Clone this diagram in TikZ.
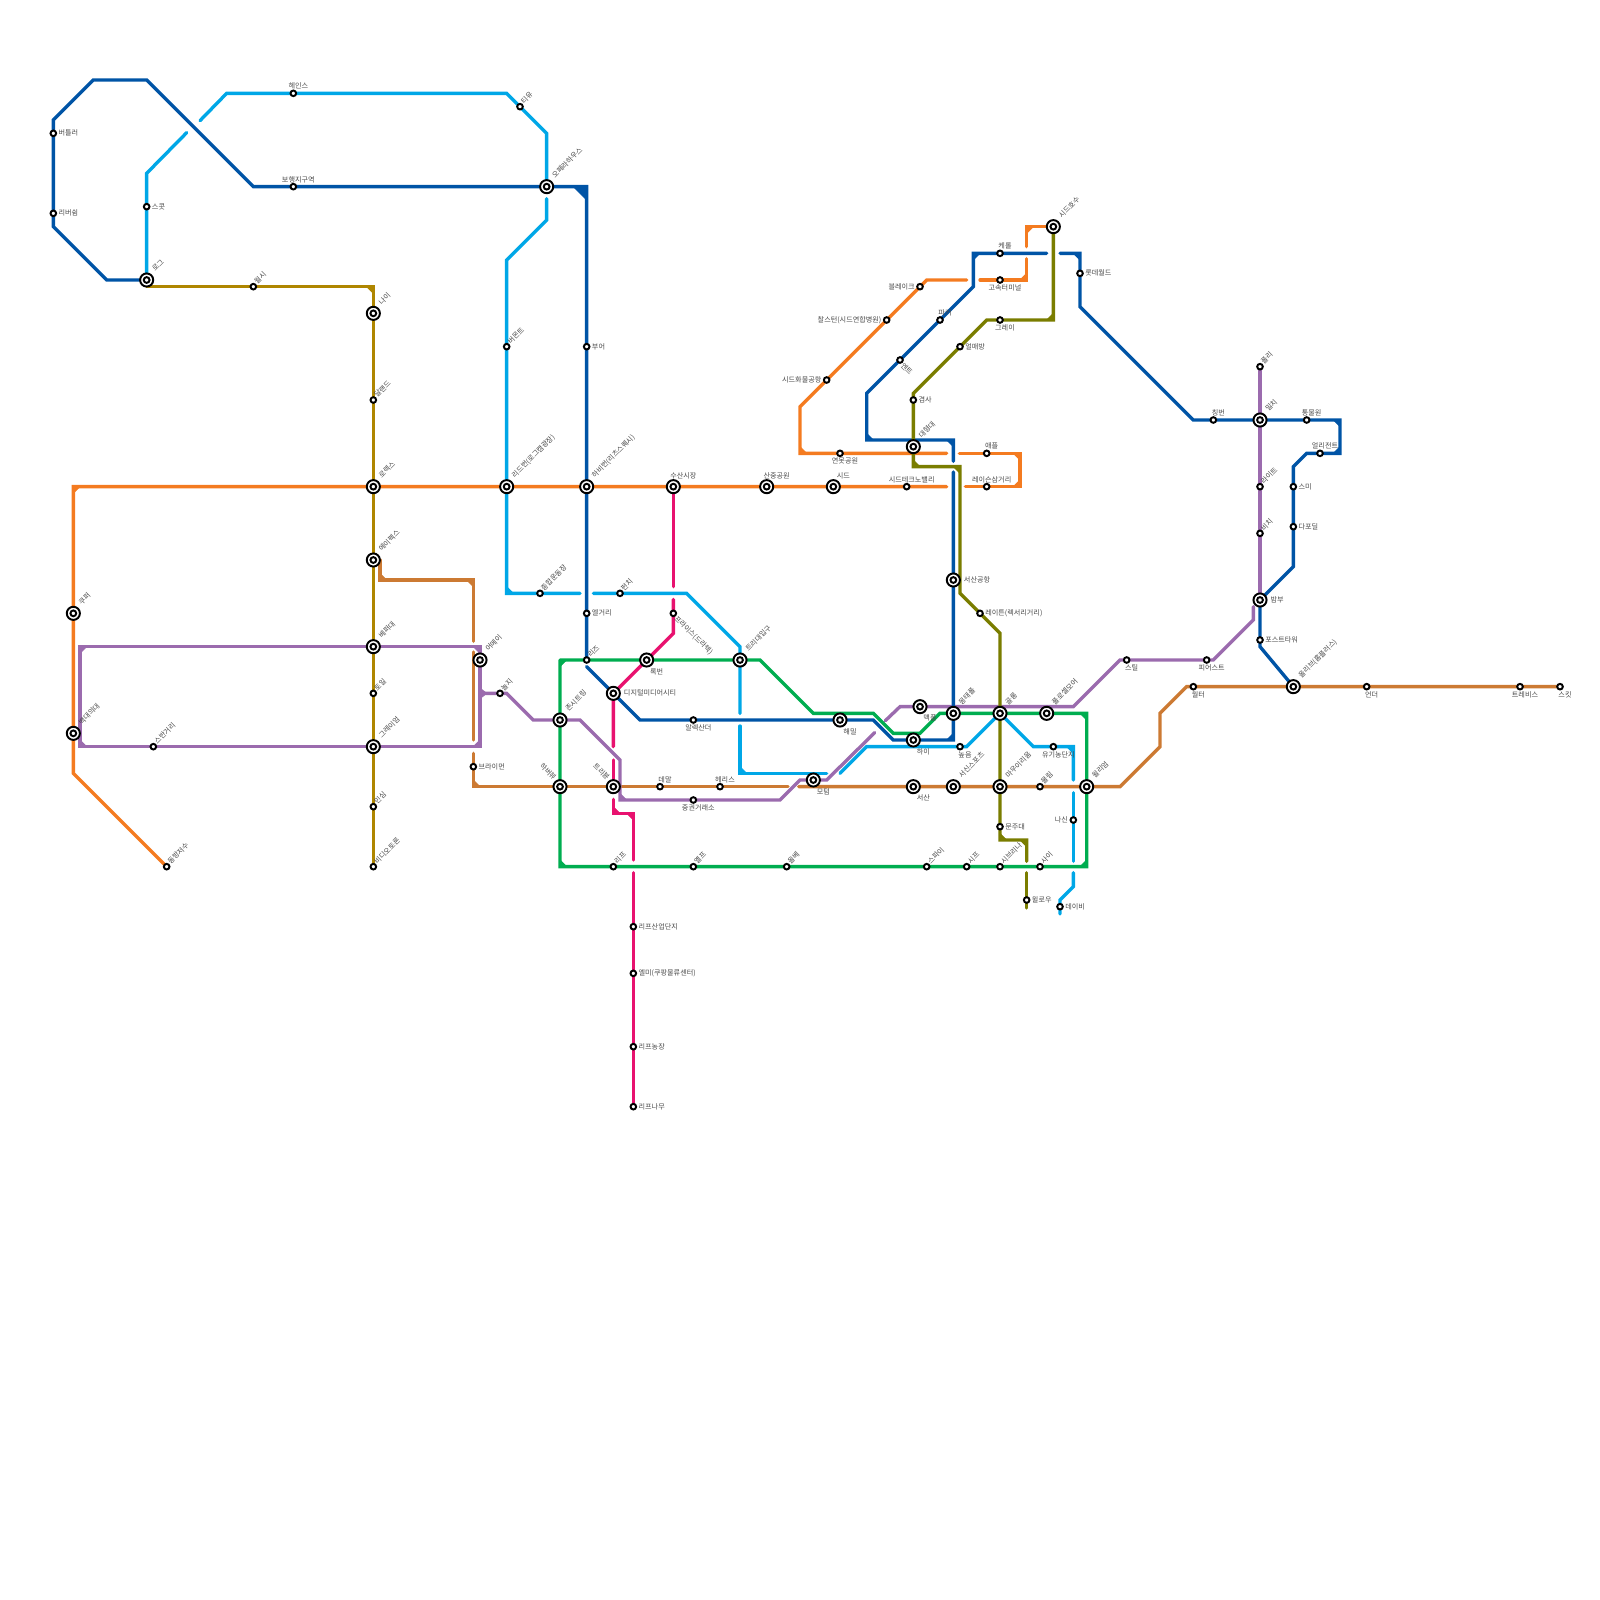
\documentclass[tikz,border=0pt]{standalone}
\usepackage{fontspec}
\usepackage{xcolor}
\usepackage{tikz}
\usetikzlibrary{backgrounds}
\setmainfont{Noto Sans CJK KR}
\definecolor{lnblue}{HTML}{0054A6}
\definecolor{lnsky}{HTML}{00A7E7}
\definecolor{lngold}{HTML}{AF8600}
\definecolor{lnorange}{HTML}{F47B20}
\definecolor{lnbrown}{HTML}{CC7A33}
\definecolor{lnpurple}{HTML}{9B6BAE}
\definecolor{lngreen}{HTML}{00AD50}
\definecolor{lnmagenta}{HTML}{E8126F}
\definecolor{lnolive}{HTML}{7A7D00}
\definecolor{lbgray}{HTML}{484848}
\tikzset{
  stn/.style={circle,draw=black,fill=white,line width=1.25pt,minimum size=3.6pt,inner sep=0pt,outer sep=0pt},
  hub/.style={stn,minimum size=8.4pt,path picture={\draw[line width=1.25pt] (path picture bounding box.center) circle (1.85pt);}},
  txt/.style={text=lbgray,font=\fontsize{4.55}{5}\selectfont,inner sep=0pt},
  lbe/.style={label={[txt,label distance=1.4pt]right:#1}},
  lbE/.style={label={[txt,label distance=2.4pt]right:#1}},
  lbw/.style={label={[txt,label distance=1.4pt]left:#1}},
  lbn/.style={label={[txt,label distance=0.6pt,xshift=3.2pt]above:#1}},
  lbs/.style={label={[txt,label distance=1pt,xshift=3.2pt]below:#1}},
  lbN/.style={label={[txt,label distance=0.6pt,xshift=6.4pt]above:#1}},
  lbS/.style={label={[txt,label distance=1pt,xshift=6.4pt]below:#1}},
  lbne/.style={label={[txt,rotate=45,anchor=west,label distance=1.2pt]45:#1}},
  lbNE/.style={label={[txt,rotate=45,anchor=west,label distance=2.2pt,xshift=1.6pt]45:#1}},
  lbse/.style={label={[txt,rotate=-45,anchor=west,label distance=1.2pt]-45:#1}},
  lbNW/.style={label={[txt,rotate=-45,anchor=east,label distance=2.2pt]135:#1}},
  ln/.style={line width=2.15pt,line cap=round,line join=miter,#1},
  cnr/.style={fill=#1,draw=#1,line width=0.5pt}
}
\begin{document}
\begin{tikzpicture}[x=0.3cm,y=-0.3cm]
\useasboundingbox (0,0) rectangle (120,120);
\node[stn,lbe=버틀러] (butler) at (4,10) {};
\node[stn,lbe=리버쉼] (rivers) at (4,16) {};
\node[stn,lbe=스콧] (scott) at (11,15.5) {};
\node[hub,lbNE=로그] (log) at (11,21) {};
\node[stn,lbne=월시] (walsh) at (19,21.5) {};
\node[hub,lbNE=나이] (nai) at (28,23.5) {};
\node[stn,lbn=헤인스] (hains) at (22,7) {};
\node[stn,lbn=보행지구역] (bohaeng) at (22,14) {};
\node[stn,lbne=달랜드] (dalland) at (28,30) {};
\node[stn,lbne=티유] (tiyu) at (39,8) {};
\node[hub,lbNE=오페라하우스] (opera) at (41,14) {};
\node[stn,lbne=버몬트] (vermont) at (38,26) {};
\node[stn,lbe=부어] (buer) at (44,26) {};
\node[hub,lbNE=리드번(로그캠광장)] (lead) at (38,36.5) {};
\node[hub,lbNE=하비번(리츠스퀘시)] (harvey) at (44,36.5) {};
\node[hub,lbN=수산시장] (susan) at (50.5,36.5) {};
\node[hub,lbN=산중공원] (sanjung) at (57.5,36.5) {};
\node[hub,lbN=시드] (seed) at (62.5,36.5) {};
\node[stn,lbn=시드테크노밸리] (techno) at (68,36.5) {};
\node[stn,lbn=레이슨삼거리] (rayson) at (74,36.5) {};
\node[stn,lbn=애플] (apple) at (74,34) {};
\node[hub,lbNE=시드호수] (seedlake) at (79,17) {};
\node[stn,lbn=케롤] (carol) at (75,19) {};
\node[stn,lbs=고속터미널] (express) at (75,21) {};
\node[stn,lbw=블레이크] (blake) at (69,21.5) {};
\node[stn,lbn=파커] (parker) at (70.5,24) {};
\node[stn,lbw=찰스턴(시드연합병원)] (charles) at (66.5,24) {};
\node[stn,lbse=엔트] (ent) at (67.5,27) {};
\node[stn,lbs=그레이] (grey) at (75,24) {};
\node[stn,lbe=얼매방] (almae) at (72,26) {};
\node[stn,lbe=겸사] (gyeomsa) at (68.5,30) {};
\node[stn,lbw=시드화물공항] (cargo) at (62,28.5) {};
\node[hub,lbNE=대형대] (daehyeong) at (68.5,33.5) {};
\node[stn,lbs=연못공원] (yeonmot) at (63,34) {};
\node[stn,lbe=롯데월드] (lotte) at (81,20.5) {};
\node[stn,lbn=칭번] (chingbeon) at (91,31.5) {};
\node[hub,lbNE=밀치] (milchi) at (94.5,31.5) {};
\node[stn,lbn=통물원] (zoo) at (98,31.5) {};
\node[stn,lbn=얼리전트] (allegiant) at (99,34) {};
\node[stn,lbe=스미] (sumi) at (97,36.5) {};
\node[stn,lbe=다포딜] (daffodil) at (97,39.5) {};
\node[stn,lbne=폴리] (polly) at (94.5,27.5) {};
\node[stn,lbne=라이트] (wright) at (94.5,36.5) {};
\node[stn,lbne=비치] (beach) at (94.5,40) {};
\node[hub,lbE=밤부] (bamboo) at (94.5,45) {};
\node[stn,lbe=포스트타워] (posttower) at (94.5,48) {};
\node[hub,lbNE=올리브(홈플러스)] (olive) at (97,51.5) {};
\node[stn,lbs=월터] (filter) at (89.5,51.5) {};
\node[stn,lbs=언더] (under) at (102.5,51.5) {};
\node[stn,lbs=트레비스] (travis) at (114,51.5) {};
\node[stn,lbs=스킷] (skit) at (117,51.5) {};
\node[stn,lbs=피어스트] (pierce) at (90.5,49.5) {};
\node[stn,lbs=스틸] (steel) at (84.5,49.5) {};
\node[stn,lbne=동방저수] (dongbang) at (12.5,65) {};
\node[hub,lbNE=쿠퍼] (kuper) at (5.5,46) {};
\node[hub,lbNE=백대의대] (baekdae) at (5.5,55) {};
\node[stn,lbne=스반거리] (sban) at (11.5,56) {};
\node[hub,lbNE=로렉스] (rolex) at (28,36.5) {};
\node[hub,lbNE=에이펙스] (apex) at (28,42) {};
\node[hub,lbNE=베퍼대] (bepper) at (28,48.5) {};
\node[stn,lbne=토일] (toil) at (28,52) {};
\node[hub,lbNE=그레이엄] (graham) at (28,56) {};
\node[stn,lbne=민심] (minsim) at (28,60.5) {};
\node[stn,lbne=비디오토론] (video) at (28,65) {};
\node[hub,lbNE=어메이] (amei) at (36,49.5) {};
\node[stn,lbne=놀지] (nolji) at (37.5,52) {};
\node[stn,lbe=브라이먼] (brian) at (35.5,57.5) {};
\node[stn,lbne=종합운동장] (stadium) at (40.5,44.5) {};
\node[stn,lbne=펀치] (punch) at (46.5,44.5) {};
\node[stn,lbe=엘거리] (elgeori) at (44,46) {};
\node[stn,lbse=프라이스(드라텍)] (price) at (50.5,46) {};
\node[stn,lbne=리즈] (riz) at (44,49.5) {};
\node[hub,lbS=록번] (rokbeon) at (48.5,49.5) {};
\node[hub,lbNE=트리대입구] (triday) at (55.5,49.5) {};
\node[hub,lbE=디지털미디어시티] (digital) at (46,52) {};
\node[stn,lbs=알렉산더] (alex) at (52,54) {};
\node[hub,lbNE=존시트링] (jon) at (42,54) {};
\node[hub,lbNW=하버뷰] (harbor) at (42,59) {};
\node[hub,lbNW=트리뷴] (tribune) at (46,59) {};
\node[stn,lbn=데말] (demal) at (49.5,59) {};
\node[stn,lbn=헤리스] (heris) at (54,59) {};
\node[stn,lbs=중권거래소] (jungkwon) at (52,60) {};
\node[hub,lbS=모텀] (motum) at (61,58.5) {};
\node[hub,lbS=해밀] (haemil) at (63,54) {};
\node[hub,lbS=맥풀] (maekpul) at (69,53) {};
\node[hub,lbS=하이] (hai) at (68.5,55.5) {};
\node[stn,lbs=높음] (nopeum) at (72,56) {};
\node[hub,lbS=서산] (seosan) at (68.5,59) {};
\node[hub,lbNE=서신스포츠] (sports) at (71.5,59) {};
\node[hub,lbNE=몽태폴] (montepul) at (71.5,53.5) {};
\node[hub,lbE=서산공항] (airport) at (71.5,43.5) {};
\node[stn,lbe=레이튼(렉서리거리)] (layton) at (73.5,46) {};
\node[hub,lbNE=골롱] (golong) at (75,53.5) {};
\node[hub,lbNE=풀로셀모어] (floral) at (78.5,53.5) {};
\node[stn,lbs=유기농단지] (organic) at (79,56) {};
\node[hub,lbNE=마우이리움] (maui) at (75,59) {};
\node[stn,lbne=물림] (mullim) at (78,59) {};
\node[hub,lbNE=윌리엄] (william) at (81.5,59) {};
\node[stn,lbe=문주대] (munju) at (75,62) {};
\node[stn,lbw=나신] (nasin) at (80.5,61.5) {};
\node[stn,lbne=사이] (sai) at (78,65) {};
\node[stn,lbne=시브리나] (sabrina) at (75,65) {};
\node[stn,lbne=시프] (sipeu) at (72.5,65) {};
\node[stn,lbne=스파이] (spy) at (69.5,65) {};
\node[stn,lbne=올베] (olbe) at (59,65) {};
\node[stn,lbne=옐프] (yelp) at (52,65) {};
\node[stn,lbne=리프] (leaf) at (46,65) {};
\node[stn,lbe=윌로우] (willow) at (77,67.5) {};
\node[stn,lbe=데이비] (davey) at (79.5,68) {};
\node[stn,lbe=리프산업단지] (leafind) at (47.5,69.5) {};
\node[stn,lbe=엘미(쿠팡물류센터)] (elmi) at (47.5,73) {};
\node[stn,lbe=리프농장] (leaffarm) at (47.5,78.5) {};
\node[stn,lbe=리프나무] (leaftree) at (47.5,83) {};
\begin{scope}[on background layer]
\draw[ln=lnsky] (log) -- (scott) -- (11,13) -- (14,9.95);
\draw[ln=lnsky] (15,9.05) -- (17,7) -- (hains) -- (38,7) -- (tiyu) -- (41,10) -- (opera);
\draw[ln=lnsky] (41,14.9) -- (41,16.5) -- (38,19.5) -- (vermont) -- (lead) -- (38,44.5) -- (stadium) -- (43.5,44.5);
\draw[ln=lnsky] (44.5,44.5) -- (punch) -- (51.5,44.5) -- (55.5,48.5) -- (triday) -- (55.5,53.5);
\draw[ln=lnsky] (55.5,54.45) -- (55.5,58) -- (62,58);
\draw[ln=lnsky] (63,58) -- (65,56) -- (nopeum) -- (72.5,56) -- (golong);
\draw[ln=lnsky] (golong) -- (77.5,56) -- (organic) -- (80.5,56) -- (80.5,58.5);
\draw[ln=lnsky] (80.5,59.45) -- (nasin) -- (80.5,64.6);
\draw[ln=lnsky] (80.5,65.45) -- (80.5,66.5) -- (79.5,67.5) -- (davey) -- (79.5,68.55);
\path[cnr=lnsky] (38,44) -- (38,44.5) -- (38.5,44.5) -- cycle (55.5,57.5) -- (55.5,58) -- (56,58) -- cycle (80,56) -- (80.5,56) -- (80.5,56.5) -- cycle;
\draw[ln=lngold] (11,21.5) -- (walsh) -- (28,21.5) -- (nai) -- (dalland) -- (rolex) -- (apex) -- (bepper) -- (toil) -- (graham) -- (minsim) -- (video);
\path[cnr=lngold] (27.5,21.5) -- (28,21.5) -- (28,22) -- cycle;
\draw[ln=lnorange] (dongbang) -- (5.5,58) -- (baekdae) -- (kuper) -- (5.5,36.5) -- (rolex) -- (lead) -- (harvey) -- (susan) -- (sanjung) -- (seed) -- (techno) -- (71,36.5);
\draw[ln=lnorange] (72.4,36.5) -- (rayson) -- (76.5,36.5) -- (76.5,34) -- (apple) -- (71.95,34);
\draw[ln=lnorange] (71,34) -- (yeonmot) -- (60,34) -- (60,30.5) -- (cargo) -- (charles) -- (blake) -- (69.5,21) -- (72.5,21);
\draw[ln=lnorange] (73.5,21) -- (express) -- (77,21) -- (77,19.4);
\draw[ln=lnorange] (77,18.5) -- (77,17) -- (seedlake);
\path[cnr=lnorange] (6,36.5) -- (5.5,36.5) -- (5.5,37) -- cycle (60,33.5) -- (60,34) -- (60.5,34) -- cycle (76,34) -- (76.5,34) -- (76.5,34.5) -- cycle (76.5,36) -- (76.5,36.5) -- (76,36.5) -- cycle (77,20.5) -- (77,21) -- (76.5,21) -- cycle (77.5,17) -- (77,17) -- (77,17.5) -- cycle;
\draw[ln=lnbrown] (28.5,42) -- (28.5,43.5) -- (35.5,43.5) -- (35.5,48.1);
\draw[ln=lnbrown] (35.5,48.9) -- (35.5,55.5);
\draw[ln=lnbrown] (35.5,56.5) -- (brian) -- (35.5,59) -- (harbor) -- (tribune) -- (demal) -- (heris) -- (59.1,59);
\draw[ln=lnbrown] (59.9,59) -- (seosan) -- (sports) -- (maui) -- (mullim) -- (william) -- (84,59) -- (87,56) -- (87,53.5) -- (89,51.5) -- (filter) -- (olive) -- (under) -- (travis) -- (skit);
\path[cnr=lnbrown] (28.5,43) -- (28.5,43.5) -- (29,43.5) -- cycle (35,43.5) -- (35.5,43.5) -- (35.5,44) -- cycle (35.5,58.5) -- (35.5,59) -- (36,59) -- cycle;
\draw[ln=lnpurple] (bepper) -- (6,48.5) -- (6,56) -- (sban) -- (graham) -- (36,56) -- (36,48.5) -- (bepper);
\draw[ln=lnpurple] (36,52) -- (nolji) -- (38,52) -- (40,54) -- (jon) -- (43.5,54) -- (46.5,57) -- (46.5,60) -- (jungkwon) -- (58.5,60) -- (60,58.5) -- (motum) -- (62,58.5) -- (65.6,54.95);
\draw[ln=lnpurple] (66.4,54.05) -- (67.5,53) -- (maekpul) -- (80.5,53) -- (84,49.5) -- (steel) -- (pierce) -- (91,49.5) -- (94,46.5) -- (94,45.5);
\draw[ln=lnpurple] (polly) -- (milchi) -- (wright) -- (beach) -- (bamboo);
\path[cnr=lnpurple] (6.5,48.5) -- (6,48.5) -- (6,49) -- cycle (6,55.5) -- (6,56) -- (6.5,56) -- cycle (35.5,48.5) -- (36,48.5) -- (36,49) -- cycle (36,55.5) -- (36,56) -- (35.5,56) -- cycle (36,51.6) -- (36.5,52) -- (36,52.4) -- cycle (46.5,59.5) -- (46.5,60) -- (47,60) -- cycle;
\draw[ln=lngreen] (42,49.5) -- (riz) -- (rokbeon) -- (triday) -- (57,49.5) -- (61,53.5) -- (65.5,53.5) -- (67,55) -- (69,55) -- (70.5,53.5) -- (montepul) -- (golong) -- (floral) -- (81.5,53.5) -- (william) -- (81.5,65) -- (sai) -- (sabrina) -- (sipeu) -- (spy) -- (olbe) -- (yelp) -- (leaf) -- (42,65) -- (harbor) -- (jon) -- (42,49.5);
\path[cnr=lngreen] (42.5,49.5) -- (42,49.5) -- (42,50) -- cycle (42,64.5) -- (42,65) -- (42.5,65) -- cycle (81,53.5) -- (81.5,53.5) -- (81.5,54) -- cycle (81.5,64.5) -- (81.5,65) -- (81,65) -- cycle;
\draw[ln=lnblue] (log) -- (8,21) -- (4,17) -- (rivers) -- (butler) -- (4,9) -- (7,6) -- (11,6) -- (19,14) -- (bohaeng) -- (opera) -- (44,14) -- (buer) -- (harvey) -- (elgeori) -- (riz);
\draw[ln=lnblue] (44,50) -- (digital) -- (48,54) -- (alex) -- (haemil) -- (65.5,54) -- (67,55.5) -- (hai) -- (71.5,55.5) -- (montepul) -- (airport) -- (71.5,35.4);
\draw[ln=lnblue] (71.5,34.6) -- (71.5,33) -- (65,33) -- (65,29.5) -- (ent) -- (parker) -- (73,21.5) -- (73,19) -- (carol) -- (78.5,19);
\draw[ln=lnblue] (79.5,19) -- (81,19) -- (lotte) -- (81,23) -- (89.5,31.5) -- (chingbeon) -- (milchi) -- (zoo) -- (100.5,31.5) -- (100.5,34) -- (allegiant) -- (98,34) -- (97,35) -- (sumi) -- (daffodil) -- (97,42.5) -- (bamboo) -- (posttower) -- (94.5,48.5) -- (olive);
\path[cnr=lnblue] (43,14) -- (44,14) -- (44,15) -- cycle (73.5,19) -- (73,19) -- (73,19.5) -- cycle (80.5,19) -- (81,19) -- (81,19.5) -- cycle (100,31.5) -- (100.5,31.5) -- (100.5,32) -- cycle (100.5,33.5) -- (100.5,34) -- (100,34) -- cycle (65,32.5) -- (65,33) -- (65.5,33) -- cycle (71,33) -- (71.5,33) -- (71.5,33.5) -- cycle (71.5,55) -- (71.5,55.5) -- (71,55.5) -- cycle;
\draw[ln=lnolive] (seedlake) -- (79,24) -- (grey) -- (74,24) -- (almae) -- (68.5,29.5) -- (gyeomsa) -- (daehyeong) -- (68.5,35) -- (72,35) -- (72,44.5) -- (layton) -- (75,47.5) -- (golong) -- (maui) -- (munju) -- (75,63) -- (77,63) -- (77,64.6);
\draw[ln=lnolive] (77,65.45) -- (willow) -- (77,68.1);
\path[cnr=lnolive] (79,23.5) -- (79,24) -- (78.5,24) -- cycle (68.5,34.5) -- (68.5,35) -- (69,35) -- cycle (71.5,35) -- (72,35) -- (72,35.5) -- cycle (75,62.5) -- (75,63) -- (75.5,63) -- cycle (76.5,63) -- (77,63) -- (77,63.5) -- cycle;
\draw[ln=lnmagenta] (susan) -- (50.5,44);
\draw[ln=lnmagenta] (50.5,44.95) -- (price) -- (50.5,47.5) -- (rokbeon) -- (digital) -- (46,56);
\draw[ln=lnmagenta] (46,57) -- (tribune);
\draw[ln=lnmagenta] (46,59.95) -- (46,61) -- (47.5,61) -- (47.5,64.5);
\draw[ln=lnmagenta] (47.5,65.45) -- (leafind) -- (elmi) -- (leaffarm) -- (leaftree);
\path[cnr=lnmagenta] (46,60.5) -- (46,61) -- (46.5,61) -- cycle (47,61) -- (47.5,61) -- (47.5,61.5) -- cycle;
\end{scope}
\end{tikzpicture}
\end{document}
